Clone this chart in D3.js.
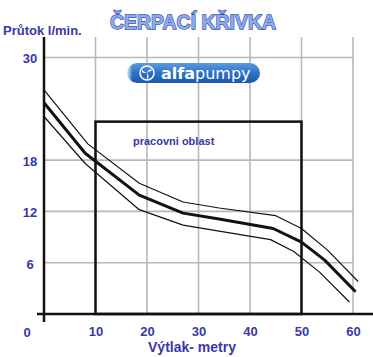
<!DOCTYPE html>
<html><head><meta charset="utf-8">
<script src="https://cdn.jsdelivr.net/npm/d3@7/dist/d3.min.js"></script>
<style>body{margin:0;background:#fff}svg{display:block}</style>
</head><body>
<svg id="c" width="373" height="357"></svg>
<script>
const xTicks = [10, 20, 30, 40, 50, 60];
const yTicks = [6, 12, 18, 30];
const upperX = [0, 8.5, 18.5, 27, 34, 45, 50, 55, 61];
const upperY = [26.2, 19.9, 15.3, 13.1, 12.4, 11.5, 10.0, 7.5, 3.8];
const middleX = [0, 8, 18.5, 27, 34, 44.5, 50, 54.5, 60.5];
const middleY = [24.7, 18.8, 13.9, 11.8, 11.1, 10.0, 8.4, 6.3, 2.6];
const lowerX = [0, 8, 18.5, 27, 34, 44, 48.5, 53.5, 59.3];
const lowerY = [23.1, 17.6, 12.2, 10.4, 9.7, 8.7, 7.3, 4.9, 1.4];
const workArea = {x0: 10, x1: 50, y1: 22.5};
const title = "ČERPACÍ KŘIVKA";
const yTitle = "Průtok l/min.";
const xTitle = "Výtlak- metry";
const boxLabel = "pracovni oblast";

const blue = "#3838a8";
const svg = d3.select("#c");
const x = d3.scaleLinear().domain([0, 60]).range([44, 353]);
const y = d3.scaleLinear().domain([0, 30]).range([314, 57.5]);
const yTop = y.invert(37);

const defs = svg.append("defs");
const g1 = defs.append("linearGradient").attr("id","lv").attr("x1",0).attr("y1",0).attr("x2",0).attr("y2",1);
g1.append("stop").attr("offset","0").attr("stop-color","#5a9ae0");
g1.append("stop").attr("offset","0.5").attr("stop-color","#2e72c8");
g1.append("stop").attr("offset","1").attr("stop-color","#1d58a8");
const g2 = defs.append("linearGradient").attr("id","lh").attr("x1",0).attr("y1",0).attr("x2",1).attr("y2",0);
g2.append("stop").attr("offset","0").attr("stop-color","#fff").attr("stop-opacity",1);
g2.append("stop").attr("offset","0.22").attr("stop-color","#fff").attr("stop-opacity",0);
g2.append("stop").attr("offset","1").attr("stop-color","#fff").attr("stop-opacity",0);

// grid
const grid = svg.append("g").attr("stroke","#b8b8b8").attr("stroke-width",1.6);
grid.selectAll("line.v").data(xTicks).join("line")
  .attr("x1", d => x(d)).attr("x2", d => x(d)).attr("y1", y(yTop)).attr("y2", y(0));
grid.selectAll("line.h").data(yTicks).join("line")
  .attr("x1", x(0)).attr("x2", x(60)).attr("y1", d => y(d)).attr("y2", d => y(d));

// logo
const lg = svg.append("g");
lg.append("rect").attr("x",127).attr("y",63).attr("width",133).attr("height",20).attr("rx",10).attr("fill","url(#lv)");
lg.append("rect").attr("x",126).attr("y",62).attr("width",30).attr("height",22).attr("fill","url(#lh)");
lg.append("circle").attr("cx",147).attr("cy",73).attr("r",7).attr("fill","none").attr("stroke","#fff").attr("stroke-width",1.5);
for (let i = 0; i < 3; i++) {
  lg.append("path").attr("d","M0,0 C1,-3 4,-5 5.2,-2.5 C3,-2.5 1.5,-1 0,0Z")
    .attr("fill","#fff").attr("transform",`translate(147,73) rotate(${i*120})`);
}
const lt = lg.append("text").attr("x",161).attr("y",78.5).attr("fill","#fff")
  .attr("font-family","DejaVu Sans").attr("font-size",16);
lt.append("tspan").attr("font-weight","bold").text("alfa");
lt.append("tspan").text("pumpy");

// working area box
svg.append("rect").attr("x", x(workArea.x0)).attr("y", y(workArea.y1))
  .attr("width", x(workArea.x1) - x(workArea.x0)).attr("height", y(0) - y(workArea.y1))
  .attr("fill","none").attr("stroke","#111").attr("stroke-width",2.5);
svg.append("text").attr("x",133).attr("y",145).attr("fill",blue)
  .attr("font-family","Liberation Sans, Arial").attr("font-weight","bold").attr("font-size",11).text(boxLabel);

// curves
const line = d3.line().x(d => x(d[0])).y(d => y(d[1]));
const series = [
  {xs: upperX, ys: upperY, w: 1.2},
  {xs: middleX, ys: middleY, w: 3},
  {xs: lowerX, ys: lowerY, w: 1.2}
];
svg.append("g").selectAll("path").data(series).join("path")
  .attr("d", s => line(s.xs.map((v, i) => [v, s.ys[i]])))
  .attr("fill","none").attr("stroke","#111").attr("stroke-width", s => s.w)
  .attr("stroke-linejoin","round");

// axes lines
svg.append("line").attr("x1",37).attr("x2",373).attr("y1",y(0)).attr("y2",y(0)).attr("stroke","#111").attr("stroke-width",2.5);
svg.append("line").attr("x1",x(0)).attr("x2",x(0)).attr("y1",y(yTop)).attr("y2",322).attr("stroke","#111").attr("stroke-width",2.5);

// tick labels via axes
const ax = svg.append("g").attr("transform",`translate(0,${y(0)})`)
  .call(d3.axisBottom(x).tickValues(xTicks).tickSize(0).tickPadding(13).tickFormat(d3.format("d")));
ax.select(".domain").remove();
const ay = svg.append("g").attr("transform",`translate(38,0)`)
  .call(d3.axisLeft(y).tickValues(yTicks).tickSize(0).tickPadding(0).tickFormat(d3.format("d")));
ay.select(".domain").remove();
ay.selectAll("text").attr("text-anchor","middle").attr("x",-8).attr("dy","0.42em");
svg.selectAll(".tick text").attr("fill",blue).attr("font-family","Liberation Sans, Arial")
  .attr("font-weight","bold").attr("font-size",13);
svg.append("text").attr("x",27).attr("y",337).attr("text-anchor","middle").attr("fill",blue)
  .attr("font-family","Liberation Sans, Arial").attr("font-weight","bold").attr("font-size",13).text("0");

// titles
svg.append("text").attr("x",3).attr("y",35).attr("fill",blue)
  .attr("font-family","Liberation Sans, Arial").attr("font-weight","bold").attr("font-size",13).text(yTitle);
svg.append("text").attr("x",192).attr("y",352).attr("text-anchor","middle").attr("fill",blue)
  .attr("font-family","Liberation Sans, Arial").attr("font-weight","bold").attr("font-size",14).text(xTitle);
svg.append("text").attr("x",110).attr("y",29).attr("textLength",166).attr("lengthAdjust","spacingAndGlyphs")
  .attr("fill","#8eaaea").attr("stroke","#3454b4").attr("stroke-width",1.3).attr("paint-order","stroke")
  .attr("font-family","Liberation Sans, Arial").attr("font-weight","bold").attr("font-size",20).text(title);
</script>
</body></html>
